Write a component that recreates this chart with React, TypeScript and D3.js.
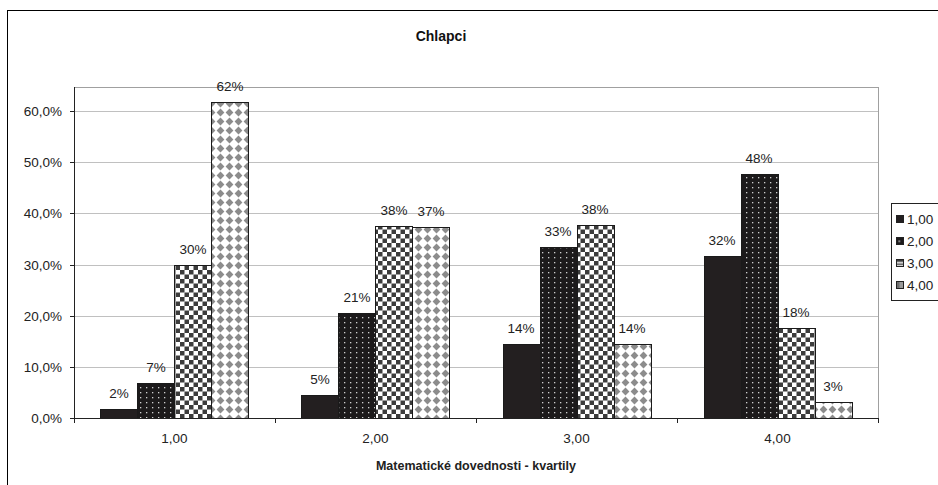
import React from "react";
import * as d3 from "d3";

const categories = ["1,00", "2,00", "3,00", "4,00"];
const seriesNames = ["1,00", "2,00", "3,00", "4,00"];
// values[seriesIndex][categoryIndex]
const series1 = [0.018, 0.045, 0.145, 0.316];
const series2 = [0.068, 0.205, 0.334, 0.477];
const series3 = [0.299, 0.375, 0.377, 0.176];
const series4 = [0.617, 0.373, 0.144, 0.031];
const seriesValues = [series1, series2, series3, series4];
const yTicks = [0, 0.1, 0.2, 0.3, 0.4, 0.5, 0.6];
const title = "Chlapci";
const xTitle = "Matematické dovednosti - kvartily";

const W = 938;
const H = 485;
const plot = { left: 74, right: 878, top: 87, bottom: 418 };
const FONT = "'Liberation Sans', Arial, sans-serif";
const fills = ["#231f20", "url(#pDots)", "url(#pCheck)", "url(#pDiam)"];
const legendFills = ["#231f20", "url(#lDots)", "url(#lCheck)", "url(#lDiam)"];

export default function App() {
  const x0 = d3
    .scaleBand<string>()
    .domain(categories)
    .range([plot.left, plot.right])
    .paddingInner(0.2637)
    .paddingOuter(0.1318);
  const x1 = d3.scaleBand<string>().domain(seriesNames).range([0, x0.bandwidth()]);
  const y = d3.scaleLinear().domain([0, 0.647]).range([plot.bottom, plot.top]);
  const fmt = (v: number) => d3.format(".1f")(v * 100).replace(".", ",") + "%";
  const step = x0.step();
  const catCenter = (c: string) => (x0(c) as number) + x0.bandwidth() / 2;
  const legendTop = 203;
  const legendRow = 22;

  return (
    <svg
      width={W}
      height={H}
      style={{ position: "absolute", left: 0, top: 0, background: "#fff" }}
      fontFamily={FONT}
    >
      <defs>
        <pattern id="pDots" patternUnits="userSpaceOnUse" width={6} height={5}>
          <rect width={6} height={5} fill="#1c1a1b" />
          <rect x={2} y={2} width={1.3} height={1.3} fill="#cfcfcf" />
        </pattern>
        <pattern id="pCheck" patternUnits="userSpaceOnUse" width={9} height={9}>
          <rect width={9} height={9} fill="#fff" />
          <rect x={0} y={0} width={4.5} height={4.5} fill="#3c3c3c" />
          <rect x={4.5} y={4.5} width={4.5} height={4.5} fill="#3c3c3c" />
        </pattern>
        <pattern id="pDiam" patternUnits="userSpaceOnUse" width={9} height={9}>
          <rect width={9} height={9} fill="#fff" />
          <polygon points="4.5,0.6 8.4,4.5 4.5,8.4 0.6,4.5" fill="#8c8c8c" />
        </pattern>
        <pattern id="lDots" patternUnits="objectBoundingBox" width={1} height={1}>
          <rect width={8} height={8} fill="#1c1a1b" />
          <rect x={2} y={3} width={1.5} height={1.5} fill="#d0d0d0" />
        </pattern>
        <pattern id="lCheck" patternUnits="objectBoundingBox" width={1} height={1}>
          <rect width={8} height={8} fill="#fff" />
          <rect x={0} y={0} width={8} height={2.5} fill="#3c3c3c" />
          <rect x={0} y={4} width={8} height={1.5} fill="#3c3c3c" />
        </pattern>
        <pattern id="lDiam" patternUnits="objectBoundingBox" width={1} height={1}>
          <rect width={8} height={8} fill="#9a9a9a" />
          <rect x={0} y={0} width={3} height={8} fill="#6e6e6e" />
        </pattern>
      </defs>

      {/* chart border */}
      <rect x={7.5} y={10.5} width={1000} height={1000} fill="none" stroke="#000" strokeWidth={1} />

      {/* title */}
      <text x={441} y={41} textAnchor="middle" fontSize={14} fontWeight="bold" fill="#111">
        {title}
      </text>

      {/* gridlines */}
      {yTicks.map((t) => (
        <line
          key={"g" + t}
          x1={plot.left}
          x2={plot.right}
          y1={Math.round(y(t)) + 0.5}
          y2={Math.round(y(t)) + 0.5}
          stroke="#c0c0c0"
          strokeWidth={1}
        />
      ))}
      {/* plot frame top/right */}
      <line x1={plot.left} x2={plot.right + 0.5} y1={plot.top + 0.5} y2={plot.top + 0.5} stroke="#a0a0a0" />
      <line x1={plot.right + 0.5} x2={plot.right + 0.5} y1={plot.top} y2={plot.bottom} stroke="#a0a0a0" />

      {/* bars */}
      {seriesValues.map((vals, si) =>
        categories.map((c, ci) => {
          const bx = (x0(c) as number) + (x1(seriesNames[si]) as number);
          const by = y(vals[ci]);
          return (
            <rect
              key={`b${si}-${ci}`}
              x={Math.round(bx) + 0.5}
              y={Math.round(by) + 0.5}
              width={Math.round(x1.bandwidth())}
              height={Math.round(plot.bottom - by)}
              fill={fills[si]}
              stroke="#1a1a1a"
              strokeWidth={1}
            />
          );
        })
      )}

      {/* data labels */}
      {seriesValues.map((vals, si) =>
        categories.map((c, ci) => {
          const cx = (x0(c) as number) + (x1(seriesNames[si]) as number) + x1.bandwidth() / 2;
          return (
            <text
              key={`l${si}-${ci}`}
              x={cx}
              y={y(vals[ci]) - 11}
              textAnchor="middle"
              fontSize={13.5}
              fill="#222"
            >
              {Math.round(vals[ci] * 100) + "%"}
            </text>
          );
        })
      )}

      {/* axes */}
      <line x1={plot.left + 0.5} x2={plot.left + 0.5} y1={plot.top} y2={plot.bottom + 1} stroke="#222" />
      <line x1={plot.left} x2={plot.right + 1} y1={plot.bottom + 0.5} y2={plot.bottom + 0.5} stroke="#222" />
      {yTicks.map((t) => (
        <g key={"yt" + t}>
          <line
            x1={plot.left - 4}
            x2={plot.left}
            y1={Math.round(y(t)) + 0.5}
            y2={Math.round(y(t)) + 0.5}
            stroke="#222"
          />
          <text x={62} y={y(t) + 5} textAnchor="end" fontSize={13.5} fill="#222">
            {fmt(t)}
          </text>
        </g>
      ))}
      {categories.map((c, i) => (
        <g key={"xt" + c}>
          <line
            x1={Math.round(plot.left + step * (i + 1)) + 0.5}
            x2={Math.round(plot.left + step * (i + 1)) + 0.5}
            y1={plot.bottom}
            y2={plot.bottom + 5}
            stroke="#222"
          />
          <text x={catCenter(c)} y={443} textAnchor="middle" fontSize={13.5} fill="#222">
            {c}
          </text>
        </g>
      ))}
      <line
        x1={plot.left + 0.5}
        x2={plot.left + 0.5}
        y1={plot.bottom}
        y2={plot.bottom + 5}
        stroke="#222"
      />
      <text
        x={(plot.left + plot.right) / 2}
        y={470}
        textAnchor="middle"
        fontSize={12.5}
        fontWeight="bold"
        fill="#222"
      >
        {xTitle}
      </text>

      {/* legend */}
      <rect x={891.5} y={legendTop + 0.5} width={80} height={97} fill="#fff" stroke="#222" />
      {seriesNames.map((s, i) => {
        const cy = legendTop + 16 + i * legendRow;
        return (
          <g key={"lg" + s}>
            <rect x={896.5} y={cy - 3.5} width={7} height={7} fill={legendFills[i]} stroke="#222" />
            <text x={907} y={cy + 5} fontSize={13.5} fill="#222">
              {s}
            </text>
          </g>
        );
      })}
    </svg>
  );
}
